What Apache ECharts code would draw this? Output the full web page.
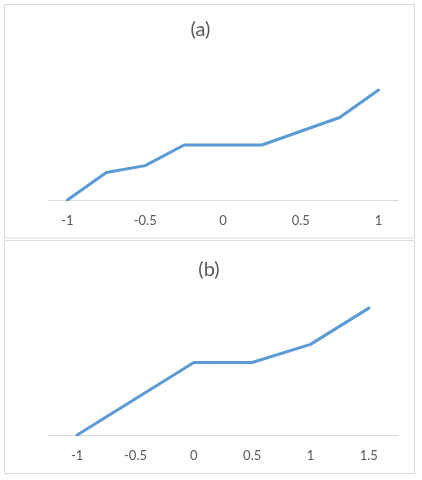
<!DOCTYPE html>
<html>
<head>
<meta charset="utf-8">
<script src="https://cdn.jsdelivr.net/npm/echarts@6/dist/echarts.min.js"></script>
<style>html,body{margin:0;padding:0;background:#fff;}#c{width:422px;height:480px;}</style>
</head>
<body>
<div id="c"></div>
<script>
// Panel (a)
const catsA = ['-1', '-0.75', '-0.5', '-0.25', '0', '0.25', '0.5', '0.75', '1'];
const valsA = [0, 0.5, 0.625, 1, 1, 1, 1.25, 1.5, 2];
// Panel (b)
const catsB = ['-1', '-0.5', '0', '0.5', '1', '1.5'];
const valsB = [0, 1, 2, 2, 2.5, 3.5];
const titleA = '(a)';
const titleB = '(b)';

const FONT = 'Lato, "Open Sans", sans-serif';
const LABEL = '#595959';
const LINE = '#5b9bd5';
const AXIS = '#d9d9d9';

const chart = echarts.init(document.getElementById('c'), null, {renderer: 'canvas'});

function xAxis(idx, cats, interval) {
  return {
    type: 'category', gridIndex: idx, data: cats, boundaryGap: true,
    axisLine: {show: true, lineStyle: {color: AXIS, width: 1}},
    axisTick: {show: false},
    axisLabel: {interval: interval, color: LABEL, fontSize: 13, fontFamily: FONT, margin: 14},
    splitLine: {show: false}
  };
}
function yAxis(idx, max) {
  return {type: 'value', gridIndex: idx, min: 0, max: max, show: false, splitLine: {show: false}};
}

chart.setOption({
  animation: false,
  backgroundColor: '#fff',
  grid: [
    {left: 48, right: 24, top: 62.5, height: 137.5},
    {left: 48, right: 24, top: 290, height: 145}
  ],
  xAxis: [xAxis(0, catsA, 1), xAxis(1, catsB, 0)],
  yAxis: [yAxis(0, 2.5), yAxis(1, 4)],
  series: [
    {type: 'line', xAxisIndex: 0, yAxisIndex: 0, data: valsA, symbol: 'none',
     lineStyle: {color: LINE, width: 3, cap: 'round', join: 'round'}},
    {type: 'line', xAxisIndex: 1, yAxisIndex: 1, data: valsB, symbol: 'none',
     lineStyle: {color: LINE, width: 3, cap: 'round', join: 'round'}}
  ],
  graphic: [
    {type: 'rect', shape: {x: 4.5, y: 4.5, width: 410, height: 233.5}, style: {fill: null, stroke: AXIS, lineWidth: 1}, silent: true},
    {type: 'rect', shape: {x: 4.5, y: 240.5, width: 410, height: 233}, style: {fill: null, stroke: AXIS, lineWidth: 1}, silent: true},
    {type: 'text', x: 200.5, y: 30, style: {text: titleA, fill: LABEL, font: '20px ' + FONT, align: 'center', verticalAlign: 'middle'}},
    {type: 'text', x: 209, y: 270, style: {text: titleB, fill: LABEL, font: '20px ' + FONT, align: 'center', verticalAlign: 'middle'}}
  ]
});
</script>
</body>
</html>
